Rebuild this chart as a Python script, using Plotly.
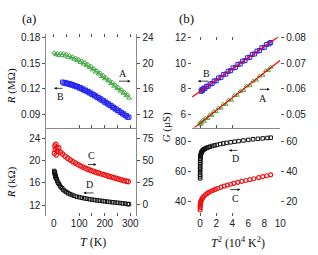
import plotly.graph_objects as go

# ---------------- data ----------------
# panel (a) top : sample A (right axis), sample B (left axis, MOhm)
A_T = [2, 8, 14, 20, 26, 32, 38, 44, 50, 56, 62, 68, 74, 80, 86, 92, 98, 104, 110, 116,
       122, 128, 134, 140, 146, 152, 158, 164, 170, 176, 182, 188, 194, 200, 206, 212, 218,
       224, 230, 236, 242, 248, 254, 260, 266, 272, 278, 284, 290, 296]
A_R = [21.6, 21.3, 21.5, 21.2, 21.5, 21.2, 21.5, 21.1, 21.4, 20.9, 21.2, 20.8, 21.0, 20.6,
       20.8, 20.4, 20.6, 20.1, 20.35, 19.85, 20.1, 19.6, 19.8, 19.3, 19.5, 18.95, 19.15, 18.6,
       18.8, 18.3, 18.45, 17.9, 18.1, 17.55, 17.75, 17.2, 17.35, 16.8, 17.0, 16.4, 16.6, 16.05,
       16.2, 15.65, 15.85, 15.3, 15.45, 14.9, 15.05, 14.55]
B_T = [35, 40, 45, 50, 55, 60, 65, 70, 75, 80, 85, 90, 95, 100, 105, 110, 115, 120, 125, 130,
       135, 140, 145, 150, 155, 160, 165, 170, 175, 180, 185, 190, 195, 200, 205, 210, 215,
       220, 225, 230, 235, 240, 245, 250, 255, 260, 265, 270, 275, 280, 285, 290, 295]
B_R = [0.1279, 0.1265, 0.1274, 0.1258, 0.1267, 0.1251, 0.1259, 0.1242, 0.1249, 0.1232, 0.1238,
       0.1221, 0.1227, 0.1208, 0.1214, 0.1195, 0.1200, 0.1181, 0.1185, 0.1166, 0.1170, 0.1150,
       0.1153, 0.1133, 0.1137, 0.1116, 0.1119, 0.1098, 0.1101, 0.1080, 0.1083, 0.1061, 0.1064,
       0.1042, 0.1045, 0.1023, 0.1025, 0.1004, 0.1006, 0.0984, 0.0986, 0.0964, 0.0967, 0.0945,
       0.0947, 0.0925, 0.0927, 0.0906, 0.0908, 0.0886, 0.0888, 0.0867, 0.0869]

# panel (a) bottom : sample C (right axis, kOhm), sample D (left axis, kOhm)
C_T = [3, 5, 6, 8, 10, 12, 15, 20, 27, 35, 45, 55, 65, 75, 85, 95, 105, 115, 125, 135, 145,
       155, 165, 175, 185, 195, 205, 215, 225, 235, 245, 255, 265, 275, 285, 292]
C_R = [58, 66, 62, 68, 56, 64, 60, 64, 59, 57, 54.5, 52.5, 50.5, 48.5, 47, 45.3, 43.8, 42.4,
       41.1, 39.9, 38.8, 37.7, 36.8, 35.9, 35.0, 34.1, 33.2, 32.3, 31.5, 30.7, 29.8, 29.0,
       28.2, 27.4, 26.7, 26.2]
D_T = [2, 3, 4, 5, 6, 7, 8, 10, 12, 14, 17, 20, 24, 28, 33, 38, 44, 50, 57, 64, 72, 80, 90,
       100, 110, 120, 130, 140, 150, 160, 170, 180, 190, 200, 210, 220, 230, 240, 250, 260,
       270, 280, 290, 295]
D_R = [18.1, 17.9, 17.6, 17.8, 17.3, 17.0, 17.2, 16.8, 16.6, 16.3, 16.0, 15.8, 15.5, 15.2,
       15.0, 14.7, 14.5, 14.3, 14.1, 13.95, 13.8, 13.65, 13.5, 13.4, 13.3, 13.2, 13.12, 13.04,
       12.97, 12.9, 12.84, 12.78, 12.72, 12.66, 12.6, 12.55, 12.5, 12.45, 12.4, 12.35, 12.3,
       12.25, 12.18, 12.15]

# panel (b) top : conductance vs T^2
A_T2 = [0.0, 0.05, 0.15, 0.3, 0.5, 0.7, 0.95, 1.2, 1.45, 1.7, 2.0, 2.3, 2.6, 2.9, 3.2, 3.55,
        3.9, 4.25, 4.6, 5.0, 5.4, 5.8, 6.2, 6.6, 7.0, 7.4, 7.8, 8.2, 8.5, 8.8]
A_G = [0.0462, 0.0470, 0.0466, 0.0478, 0.0474, 0.0486, 0.0485, 0.0499, 0.0497, 0.0512, 0.0511,
       0.0526, 0.0525, 0.0540, 0.0540, 0.0557, 0.0556, 0.0574, 0.0575, 0.0590, 0.0594, 0.0611,
       0.0614, 0.0630, 0.0634, 0.0650, 0.0653, 0.0671, 0.0672, 0.0684]
B_T2 = [0.12, 0.2, 0.3, 0.45, 0.6, 0.8, 1.0, 1.25, 1.5, 1.75, 2.0, 2.3, 2.6, 2.9, 3.2, 3.5,
        3.8, 4.1, 4.4, 4.7, 5.0, 5.3, 5.6, 5.9, 6.2, 6.5, 6.8, 7.1, 7.4, 7.7, 8.0, 8.3, 8.6, 8.8]
B_G = [7.80, 7.93, 7.88, 8.05, 8.02, 8.19, 8.20, 8.38, 8.41, 8.60, 8.63, 8.84, 8.89, 9.10, 9.15,
       9.36, 9.41, 9.62, 9.67, 9.88, 9.93, 10.15, 10.19, 10.41, 10.45, 10.67, 10.71, 10.93,
       10.97, 11.19, 11.23, 11.45, 11.50, 11.60]
FITA_T2 = [-1, 10]
FITA_G = [0.0442, 0.0711]
FITB_T2 = [-1, 10]
FITB_G = [7.365, 12.15]

# panel (b) bottom
C_T2 = [0.0, 0.005, 0.01, 0.02, 0.04, 0.06, 0.1, 0.15, 0.25, 0.35, 0.5, 0.7, 0.9, 1.1, 1.35,
        1.6, 1.9, 2.2, 2.6, 3.0, 3.4, 3.8, 4.2, 4.7, 5.2, 5.7, 6.2, 6.7, 7.3, 7.8, 8.3, 8.8]
C_G = [14.0, 15.5, 16.7, 17.5, 18.3, 19.0, 19.8, 20.5, 21.6, 22.4, 23.4, 24.4, 25.2, 25.9, 26.6,
       27.2, 27.9, 28.5, 29.3, 30.0, 30.7, 31.3, 31.9, 32.6, 33.2, 33.8, 34.4, 35.0, 35.8, 36.4,
       37.0, 37.6]
D_T2 = [0.0, 0.0, 0.0, 0.001, 0.002, 0.003, 0.005, 0.008, 0.012, 0.02, 0.03, 0.045, 0.06, 0.08,
        0.1, 0.13, 0.17, 0.22, 0.3, 0.4, 0.5, 0.65, 0.8, 1.0, 1.2, 1.5, 1.8, 2.1, 2.5, 2.9, 3.3,
        3.8, 4.3, 4.8, 5.4, 6.0, 6.6, 7.2, 7.8, 8.4, 8.8]
D_G = [55.3, 56.5, 57.8, 59.5, 61.0, 62.3, 63.5, 64.8, 66.0, 67.3, 68.5, 69.5, 70.3, 71.0, 71.6,
       72.2, 72.8, 73.3, 73.9, 74.4, 74.8, 75.3, 75.7, 76.1, 76.5, 77.0, 77.4, 77.8, 78.3, 78.7,
       79.1, 79.5, 79.9, 80.3, 80.7, 81.1, 81.5, 81.8, 82.1, 82.4, 82.6]

TX_A_LABELS = [0, 100, 200, 300]
TX_A_TICKS = [100, 150, 200, 250, 300]
TX_A_TOP = [0, 50, 100, 150, 200, 250, 300]
TX_B_LABELS = [0, 2, 4, 6, 8, 10]
TX_B_TICKS = [0, 2, 4]

# ---------------- layout helpers ----------------
W, H = 318, 255
def px(x):
    return x / W
def py(y):
    return 1 - y / H

GREEN = '#43a843'
BLUE = '#2222f0'
RED = '#f01010'
BLACK = '#111111'
LINE = '#8a8a8a'
SANS = 'Liberation Sans, Arial, sans-serif'
SERIF = 'Liberation Serif, Times New Roman, serif'

dom_xa = [px(47.3), px(139)]
dom_xb = [px(195.8), px(285.7)]
dom_top_a = [py(125), py(29.5)]
dom_top_b = [py(125), py(33)]
dom_bot = [py(215), py(125)]
rng_xa = [-28.5, 324]
rng_xb = [-1, 10]

fig = go.Figure()

def sc(x, y, xa, ya, sym, col, size, lw=1.0):
    fig.add_trace(go.Scatter(x=x, y=y, xaxis=xa, yaxis=ya, mode='markers',
                             marker=dict(symbol=sym, size=size, color=col,
                                         line=dict(color=col, width=lw)),
                             showlegend=False, hoverinfo='skip'))

sc(A_T, A_R, 'x', 'y2', 'triangle-up-open', GREEN, 4)
sc(B_T, B_R, 'x', 'y', 'square-open', BLUE, 4)
sc(C_T, C_R, 'x2', 'y4', 'circle-open', RED, 4.5, 1.2)
sc(D_T, D_R, 'x2', 'y3', 'square-open', BLACK, 3.5)
sc(A_T2, A_G, 'x3', 'y6', 'triangle-up-open', GREEN, 4)
sc(B_T2, B_G, 'x3', 'y5', 'square-open', BLUE, 4)
fig.add_trace(go.Scatter(x=FITB_T2, y=FITB_G, xaxis='x3', yaxis='y5', mode='lines',
                         line=dict(color='#ff0000', width=1.2), showlegend=False, hoverinfo='skip'))
fig.add_trace(go.Scatter(x=FITA_T2, y=FITA_G, xaxis='x3', yaxis='y6', mode='lines',
                         line=dict(color='#ff0000', width=1.2), showlegend=False, hoverinfo='skip'))
sc(C_T2, C_G, 'x4', 'y8', 'circle-open', RED, 4, 1.2)
sc(D_T2, D_G, 'x4', 'y7', 'square-open', BLACK, 3.5)

# empty traces so overlay tick axes are drawn
for xa, ya in [('x5', 'y'), ('x6', 'y3'), ('x7', 'y5'), ('x8', 'y7')]:
    fig.add_trace(go.Scatter(x=[], y=[], xaxis=xa, yaxis=ya, showlegend=False))

tickfont = dict(family=SANS, size=10, color='#222222')
base = dict(showgrid=False, zeroline=False, tickfont=tickfont, ticklen=3,
            tickcolor='#555555', tickwidth=1)

def xax(domain, rng, anchor, **kw):
    d = dict(base); d.update(domain=domain, range=rng, anchor=anchor); d.update(kw); return d

def yax(domain, rng, anchor, **kw):
    d = dict(base); d.update(domain=domain, range=rng, anchor=anchor, ticks='outside'); d.update(kw); return d

fig.update_layout(
    width=W, height=H, margin=dict(l=0, r=0, t=0, b=0),
    paper_bgcolor='white', plot_bgcolor='white',
    # panel (a)
    xaxis=xax(dom_xa, rng_xa, 'y', showline=True, linecolor=LINE, ticks='inside',
              tickvals=TX_A_TICKS, showticklabels=False),
    xaxis5=xax(dom_xa, rng_xa, 'y', overlaying='x', side='top', ticks='inside',
               tickvals=TX_A_TOP, showticklabels=False, showline=False),
    xaxis2=xax(dom_xa, rng_xa, 'y3', ticks='', tickvals=TX_A_LABELS, showline=False),
    xaxis6=xax(dom_xa, rng_xa, 'y3', overlaying='x2', side='bottom', ticks='inside',
               tickvals=TX_A_TICKS, showticklabels=False, showline=False),
    yaxis=yax(dom_top_a, [0.0748, 0.1840], 'x', tickvals=[0.09, 0.12, 0.15, 0.18],
              tickformat='.2f', showline=True, linecolor=LINE),
    yaxis2=yax(dom_top_a, [9.97, 24.53], 'x', overlaying='y', side='right',
               tickvals=[12, 16, 20, 24], showline=True, linecolor=LINE),
    yaxis3=yax(dom_bot, [10.07, 25.88], 'x2', tickvals=[12, 16, 20, 24],
               showline=True, linecolor=LINE),
    yaxis4=yax(dom_bot, [-12.08, 86.75], 'x2', overlaying='y3', side='right',
               tickvals=[0, 25, 50, 75], showline=True, linecolor=LINE),
    # panel (b)
    xaxis3=xax(dom_xb, rng_xb, 'y5', showline=True, linecolor=LINE, ticks='inside',
               tickvals=TX_B_TICKS, showticklabels=False),
    xaxis7=xax(dom_xb, rng_xb, 'y5', overlaying='x3', side='top', ticks='inside',
               tickvals=TX_B_TICKS, showticklabels=False, showline=False),
    xaxis4=xax(dom_xb, rng_xb, 'y7', ticks='', tickvals=TX_B_LABELS, showline=False),
    xaxis8=xax(dom_xb, rng_xb, 'y7', overlaying='x4', side='bottom', ticks='inside',
               tickvals=TX_B_TICKS, showticklabels=False, showline=False),
    yaxis5=yax(dom_top_b, [4.986, 12.0], 'x3', tickvals=[6, 8, 10, 12], showline=False),
    yaxis6=yax(dom_top_b, [0.04493, 0.0800], 'x3', overlaying='y5', side='right',
               tickvals=[0.05, 0.06, 0.07, 0.08], tickformat='.2f', showline=False),
    yaxis7=yax(dom_bot, [30.1, 89.4], 'x4', tickvals=[40, 60, 80], showline=False),
    yaxis8=yax(dom_bot, [10.1, 69.4], 'x4', overlaying='y7', side='right',
               tickvals=[20, 40, 60], showline=False),
)

ann = []
def text(x, y, s, size=11, angle=0, family=SERIF):
    ann.append(dict(x=px(x), y=py(y), xref='paper', yref='paper', text=s, showarrow=False,
                    textangle=angle, font=dict(family=family, size=size, color='#111111'),
                    xanchor='center', yanchor='middle'))

def arrow(x0, y0, x1, y1):
    ann.append(dict(x=px(x1), y=py(y1), xref='paper', yref='paper', ax=x0 - x1, ay=y0 - y1,
                    text='', showarrow=True, arrowhead=2, arrowsize=0.7, arrowwidth=0.8,
                    arrowcolor='#111111', standoff=0, startstandoff=0))

text(30, 14, '(a)', 13)
text(190, 14, '(b)', 13)
text(12, 83, '<i>R</i> (MΩ)', 11, -90)
text(12, 181, '<i>R</i> (kΩ)', 11, -90)
text(170, 125, '<i>G</i> (μS)', 11, -90)
text(95, 242, '<i>T</i> (K)', 12)
text(243, 242, '<i>T</i><sup>2</sup> (10<sup>4</sup> K<sup>2</sup>)', 12)

text(125, 70, 'A', 10); arrow(120, 77.7, 133, 77.7)
text(61.7, 93, 'B', 10); arrow(65, 85, 55, 85)
text(93.3, 153.3, 'C', 10); arrow(88.3, 162.7, 98.3, 162.7)
text(91.7, 183, 'D', 10); arrow(96.7, 191.7, 85, 191.7)
text(210, 70, 'B', 10); arrow(213.3, 77.7, 201.7, 77.7)
text(268.3, 95, 'A', 10); arrow(263.3, 86, 275, 86)
text(240, 156.7, 'D', 10); arrow(243.3, 148.3, 233.3, 148.3)
text(240, 197.3, 'C', 10); arrow(233.3, 188.3, 245, 188.3)

fig.update_layout(annotations=ann)
fig.write_html('out.html', config={'displayModeBar': False},
               post_script="document.body.style.margin='0';document.body.style.overflow='hidden';")
